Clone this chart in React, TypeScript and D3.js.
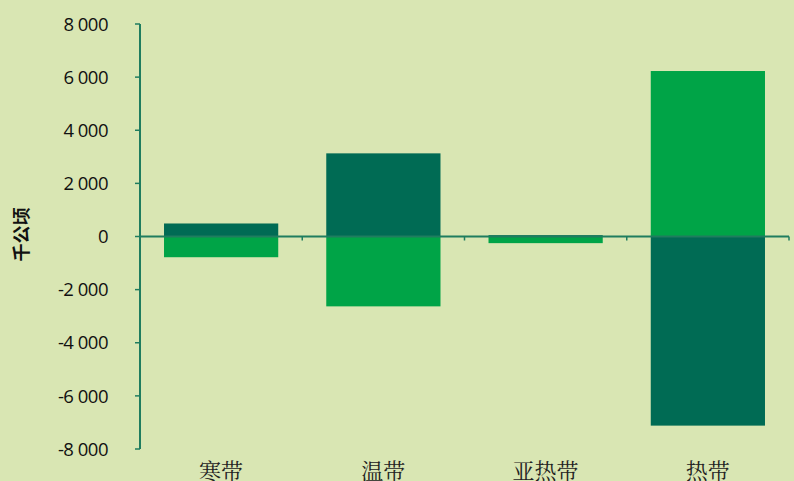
import React from "react";
import * as d3 from "d3";

const categories = ["寒带", "温带", "亚热带", "热带"];
const seriesDark = [490, 3130, 50, -7120];
const seriesLight = [-780, -2630, -250, 6230];
const yTicks = [8000, 6000, 4000, 2000, 0, -2000, -4000, -6000, -8000];
const yLabel = "千公顷";

const W = 794;
const H = 481;
const left = 140;
const right = 789;
const top = 24;
const bottom = 449;

export default function App() {
  const x = d3.scaleBand<string>().domain(categories).range([left, right]).paddingInner(0.296).paddingOuter(0.148);
  const y = d3.scaleLinear().domain([-8000, 8000]).range([bottom, top]);
  const fmt = (v: number) => (v < 0 ? "-" : "") + d3.format(",")(Math.abs(v)).replace(/,/g, " ");
  const step = (right - left) / categories.length;
  const bw = x.bandwidth();
  const bar = (v: number) => ({ y: Math.min(y(v), y(0)), h: Math.abs(y(v) - y(0)) });
  return (
    <svg width={W} height={H} style={{ position: "absolute", left: 0, top: 0, background: "#D9E6B3" }}>
      <rect x={0} y={0} width={W} height={H} fill="#D9E6B3" />
      {categories.map((c, i) => {
        const b = bar(seriesDark[i]);
        return <rect key={"d" + c} x={x(c)} y={b.y} width={bw} height={b.h} fill="#006B54" />;
      })}
      {categories.map((c, i) => {
        const b = bar(seriesLight[i]);
        return <rect key={"l" + c} x={x(c)} y={b.y} width={bw} height={b.h} fill="#00A447" />;
      })}
      <line x1={left} x2={right} y1={y(0)} y2={y(0)} stroke="#1F7D5F" strokeWidth={2} />
      {categories.map((c, i) => (
        <line key={"t" + c} x1={left + step * (i + 1)} x2={left + step * (i + 1)} y1={y(0)} y2={y(0) + 4} stroke="#1F7D5F" strokeWidth={1.5} />
      ))}
      <line x1={left} x2={left} y1={top} y2={bottom} stroke="#1F7D5F" strokeWidth={2} />
      {yTicks.map((t) => (
        <g key={t}>
          <line x1={left - 5} x2={left} y1={y(t)} y2={y(t)} stroke="#1F7D5F" strokeWidth={1.5} />
          <text x={108} y={y(t)} dy="0.36em" textAnchor="end" fontFamily="'Open Sans', 'Noto Sans', sans-serif" fontSize={18.5} fill="#111" letterSpacing={-0.5}>
            {fmt(t)}
          </text>
        </g>
      ))}
      <text transform={`translate(28, ${y(0) - 2}) rotate(-90)`} textAnchor="middle" fontFamily="'Noto Sans CJK SC', sans-serif" fontWeight="bold" fontSize={18} fill="#111">
        {yLabel}
      </text>
      {categories.map((c) => (
        <text key={"c" + c} x={(x(c) as number) + bw / 2} y={479} textAnchor="middle" fontFamily="'Noto Serif CJK SC', serif" fontSize={22} fill="#222">
          {c}
        </text>
      ))}
    </svg>
  );
}
